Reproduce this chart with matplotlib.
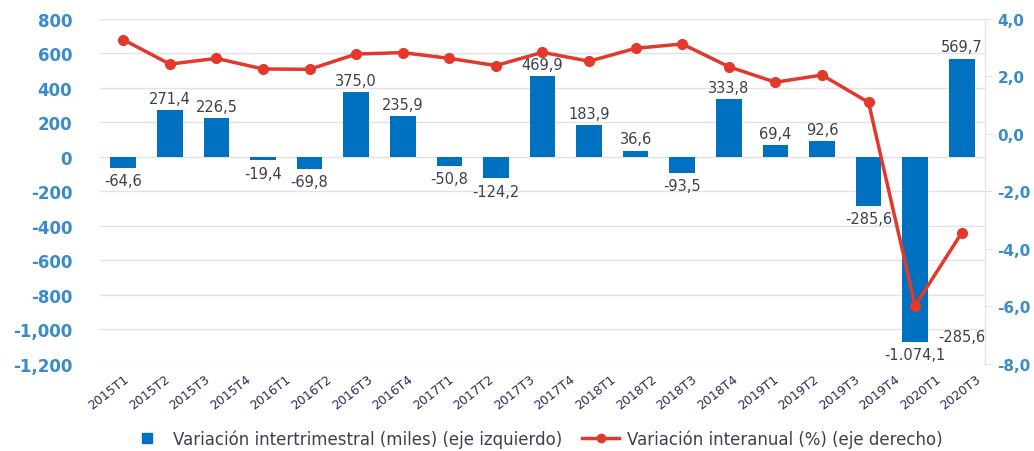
import numpy as np
import matplotlib
matplotlib.use("Agg")
import matplotlib.pyplot as plt
from matplotlib.lines import Line2D

# =========================
# DATA
# =========================
quarters = ["2015T1", "2015T2", "2015T3", "2015T4", "2016T1", "2016T2", "2016T3",
            "2016T4", "2017T1", "2017T2", "2017T3", "2017T4", "2018T1", "2018T2",
            "2018T3", "2018T4", "2019T1", "2019T2", "2019T3"]
tick_labels = ["2015T1", "2015T2", "2015T3", "2015T4", "2016T1", "2016T2", "2016T3",
               "2016T4", "2017T1", "2017T2", "2017T3", "2017T4", "2018T1", "2018T2",
               "2018T3", "2018T4", "2019T1", "2019T2", "2019T3", "2019T4", "2020T1",
               "2020T3"]
var_trim = [-64.6, 271.4, 226.5, -19.4, -69.8, 375.0, 235.9, -50.8, -124.2, 469.9,
            183.9, 36.6, -93.5, 333.8, 69.4, 92.6, -285.6, -1074.1, 569.7]
var_anual = [3.28, 2.43, 2.63, 2.26, 2.25, 2.78, 2.83, 2.63, 2.38, 2.84,
             2.53, 2.98, 3.13, 2.34, 1.80, 2.05, 1.10, -5.97, -3.44]
extra_label = "-285,6"

left_ticks = [800, 600, 400, 200, 0, -200, -400, -600, -800, -1000, -1200]
right_ticks = [4, 2, 0, -2, -4, -6, -8]

BLUE = "#0070c0"
RED = "#e3392c"
AXIS_BLUE = "#3a8cc8"
TXT = "#3c4050"


def fmt_es(v):
    s = "{:,.1f}".format(v)
    return s.replace(",", "X").replace(".", ",").replace("X", ".")


# =========================
# FIGURE
# =========================
fig = plt.figure(figsize=(10.34, 4.52), dpi=100)
ax = fig.add_axes([0.0967, 0.1925, 0.8559, 0.7633])
x = np.arange(len(quarters))

ax.bar(x, var_trim, width=0.55, color=BLUE, zorder=2)
ax.set_xlim(-0.5, len(quarters) - 0.5)
ax.set_ylim(-1200, 800)
ax.set_yticks(left_ticks)
ax.set_yticklabels(["{:,}".format(t) for t in left_ticks])
ax.tick_params(axis="y", length=0, pad=20, labelsize=12, labelcolor=AXIS_BLUE)
for lab in ax.get_yticklabels():
    lab.set_fontweight("bold")
ax.grid(axis="y", color="#e3e3e3", linewidth=1, zorder=0)
for s in ["top", "left", "bottom"]:
    ax.spines[s].set_visible(False)
ax.spines["right"].set_color("#e3e3e3")

# tick labels (spread independently of the bars, as in the source)
ax.set_xticks(np.linspace(0, 18.3, len(tick_labels)))
ax.set_xticklabels(tick_labels, rotation=38, ha="right", rotation_mode="anchor",
                   fontsize=9, color="#2b2d52")
ax.tick_params(axis="x", length=0, pad=6)

# data labels
for xi, v in zip(x, var_trim):
    if v >= 0:
        ax.text(xi, v + 25, fmt_es(v), ha="center", va="bottom", fontsize=10.5, color=TXT)
    else:
        ax.text(xi, v - 30, fmt_es(v), ha="center", va="top", fontsize=10.5, color=TXT)
ax.text(18.0, -1043, extra_label, ha="center", va="center", fontsize=10.5, color=TXT)

# right axis line
ax2 = ax.twinx()
ax2.plot(x, var_anual, color=RED, linewidth=2.5, marker="o", markersize=7, zorder=3)
ax2.set_ylim(-8, 4)
ax2.set_yticks(right_ticks)
ax2.set_yticklabels(["{:.1f}".format(t).replace(".", ",") for t in right_ticks])
ax2.tick_params(axis="y", length=5, color="#e3e3e3", pad=4, labelsize=11,
                labelcolor=AXIS_BLUE)
for lab in ax2.get_yticklabels():
    lab.set_fontweight("bold")
for s in ["top", "left", "bottom"]:
    ax2.spines[s].set_visible(False)
ax2.spines["right"].set_color("#e3e3e3")

# legend
handles = [
    Line2D([0], [0], marker="s", color="none", markerfacecolor=BLUE, markeredgecolor=BLUE,
           markersize=7),
    Line2D([0], [0], color=RED, linewidth=2.5, marker="o", markersize=6),
]
fig.legend(handles, ["Variación intertrimestral (miles) (eje izquierdo)",
                     "Variación interanual (%) (eje derecho)"],
           loc="center", bbox_to_anchor=(0.518, 0.027), ncol=2, frameon=False,
           fontsize=12, handlelength=2.2, handletextpad=0.5, columnspacing=1.2,
           labelcolor=TXT)

fig.savefig("out.png", dpi=100)
